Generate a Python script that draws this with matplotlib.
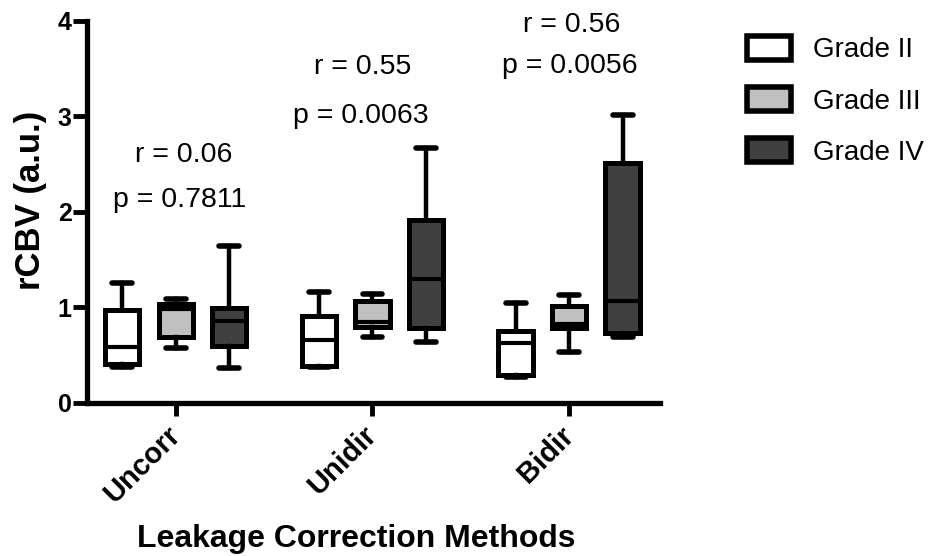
import matplotlib
matplotlib.use('Agg')
from matplotlib import pyplot as plt
from matplotlib.patches import Patch

plt.rcParams['font.family'] = ['Liberation Sans', 'DejaVu Sans']

methods = ['Uncorr', 'Unidir', 'Bidir']
grades = ['Grade II', 'Grade III', 'Grade IV']
colors = ['#ffffff', '#c0c0c0', '#404040']

# five-number summaries per method: rows = grade II, III, IV
whislo = [[0.37, 0.57, 0.365],
          [0.37, 0.69, 0.64],
          [0.27, 0.53, 0.69]]
q1 = [[0.40, 0.69, 0.59],
      [0.38, 0.795, 0.78],
      [0.29, 0.78, 0.73]]
med = [[0.58, 0.98, 0.86],
       [0.66, 0.85, 1.30],
       [0.63, 0.82, 1.065]]
q3 = [[0.97, 1.03, 0.99],
      [0.91, 1.065, 1.91],
      [0.75, 1.01, 2.51]]
whishi = [[1.255, 1.09, 1.64],
          [1.16, 1.14, 2.67],
          [1.045, 1.13, 3.01]]

r_vals = ['0.06', '0.55', '0.56']
p_vals = ['0.7811', '0.0063', '0.0056']
r_pos = [(0.04, 2.59), (0.95, 3.51), (2.015, 3.95)]
p_pos = [(0.02, 2.12), (0.94, 3.00), (2.005, 3.52)]

fig = plt.figure(figsize=(9.4, 5.56), dpi=100)
ax = fig.add_axes([0.0926, 0.2757, 0.6096, 0.6873])

offsets = [-0.272, 0.0, 0.272]
for m in range(3):
    for g in range(3):
        st = dict(whislo=whislo[m][g], q1=q1[m][g], med=med[m][g],
                  q3=q3[m][g], whishi=whishi[m][g], fliers=[])
        ax.bxp([st], positions=[m + offsets[g]], widths=0.175,
               patch_artist=True, showfliers=False, capwidths=0.1,
               boxprops=dict(facecolor=colors[g], edgecolor='black', linewidth=3.6),
               whiskerprops=dict(color='black', linewidth=3.2),
               capprops=dict(color='black', linewidth=4, solid_capstyle='round'),
               medianprops=dict(color='black', linewidth=3))

for m in range(3):
    ax.text(*r_pos[m], 'r = ' + r_vals[m], ha='center', va='center',
            fontsize=20.5, clip_on=False)
    ax.text(*p_pos[m], 'p = ' + p_vals[m], ha='center', va='center',
            fontsize=20.5, clip_on=False)

ax.set_xlim(-0.451, 2.462)
ax.set_ylim(0, 4)
ax.set_yticks([0, 1, 2, 3, 4])
ax.set_xticks(range(3))
ax.set_xticklabels(methods, rotation=45, ha='right', va='center',
                   rotation_mode='anchor', fontsize=21, fontweight='bold')
for lab in ax.get_yticklabels():
    lab.set_fontsize(18)
    lab.set_fontweight('bold')
ax.tick_params(axis='y', length=10, width=3.5, pad=1)
ax.tick_params(axis='x', length=9, width=3.5, pad=11.5)
for s in ['top', 'right']:
    ax.spines[s].set_visible(False)
for s in ['left', 'bottom']:
    ax.spines[s].set_linewidth(3.8)

ax.set_ylabel('rCBV (a.u.)', fontsize=25, fontweight='bold')
ax.yaxis.set_label_coords(-0.07, 0.53)
ax.set_xlabel('Leakage Correction Methods', fontsize=23, fontweight='bold',
              va='baseline')
ax.xaxis.set_label_coords(0.47, -0.378)

handles = [Patch(facecolor=c, edgecolor='black', linewidth=4) for c in colors]
fig.legend(handles, grades, loc='upper left', bbox_to_anchor=(0.768, 0.981),
           frameon=False, fontsize=20, handlelength=1.58, handleheight=0.95,
           handletextpad=0.8, labelspacing=0.86)

fig.savefig('out.png', dpi=100)
